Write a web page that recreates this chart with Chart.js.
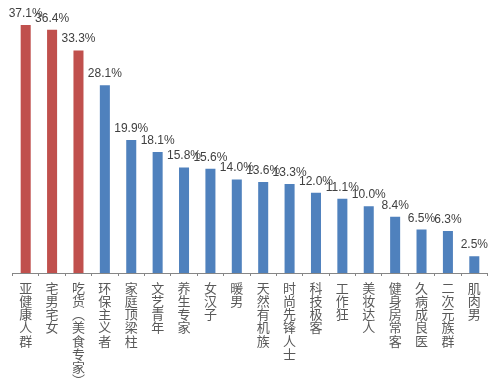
<!DOCTYPE html>
<html>
<head>
<meta charset="utf-8">
<script src="https://cdn.jsdelivr.net/npm/chart.js@4/dist/chart.umd.min.js"></script>
<style>
html,body{margin:0;padding:0;background:#fff;}
#wrap{width:500px;height:390px;position:relative;}
</style>
</head>
<body>
<div id="wrap"><canvas id="c" width="500" height="390"></canvas></div>
<script>
const categories = ["亚健康人群","宅男宅女","吃货︵美食专家︶","环保主义者","家庭顶梁柱","文艺青年","养生专家","女汉子","暖男","天然有机族","时尚先锋人士","科技极客","工作狂","美妆达人","健身房常客","久病成良医","二次元族群","肌肉男"];
const values = [37.1,36.4,33.3,28.1,19.9,18.1,15.8,15.6,14.0,13.6,13.3,12.0,11.1,10.0,8.4,6.5,6.3,2.5];
const highlighted = [true,true,true,false,false,false,false,false,false,false,false,false,false,false,false,false,false,false];
const RED = '#C0504D', BLUE = '#4F81BD';

const valueLabels = {
  id: 'valueLabels',
  afterDatasetsDraw(chart) {
    const ctx = chart.ctx;
    const meta = chart.getDatasetMeta(0);
    ctx.save();
    ctx.font = '12px "Liberation Sans", Arial, sans-serif';
    ctx.fillStyle = '#404040';
    ctx.textAlign = 'center';
    ctx.textBaseline = 'alphabetic';
    meta.data.forEach((bar, i) => {
      ctx.fillText(values[i].toFixed(1) + '%', bar.x, bar.y - 8);
    });
    ctx.restore();
  }
};

new Chart(document.getElementById('c'), {
  type: 'bar',
  data: {
    labels: categories.map(s => Array.from(s)),
    datasets: [{
      data: values,
      backgroundColor: highlighted.map(h => h ? RED : BLUE),
      barPercentage: 0.76,
      categoryPercentage: 0.5
    }]
  },
  options: {
    responsive: false,
    animation: false,
    layout: { padding: { left: 12.5, right: 12.5, top: 5.6, bottom: 0 } },
    plugins: { legend: { display: false }, tooltip: { enabled: false } },
    scales: {
      y: { display: false, min: 0, max: 40 },
      x: {
        afterFit(scale) { scale.height = 117; },
        border: { display: true, color: '#868686', width: 1 },
        grid: { offset: true, drawOnChartArea: false, drawTicks: true, tickLength: 3, color: '#868686' },
        ticks: {
          maxRotation: 0, minRotation: 0, autoSkip: false, padding: 5,
          color: '#595959',
          font: { family: '"Noto Sans CJK SC", sans-serif', size: 13, lineHeight: 1.02 }
        }
      }
    }
  },
  plugins: [valueLabels]
});
</script>
</body>
</html>
